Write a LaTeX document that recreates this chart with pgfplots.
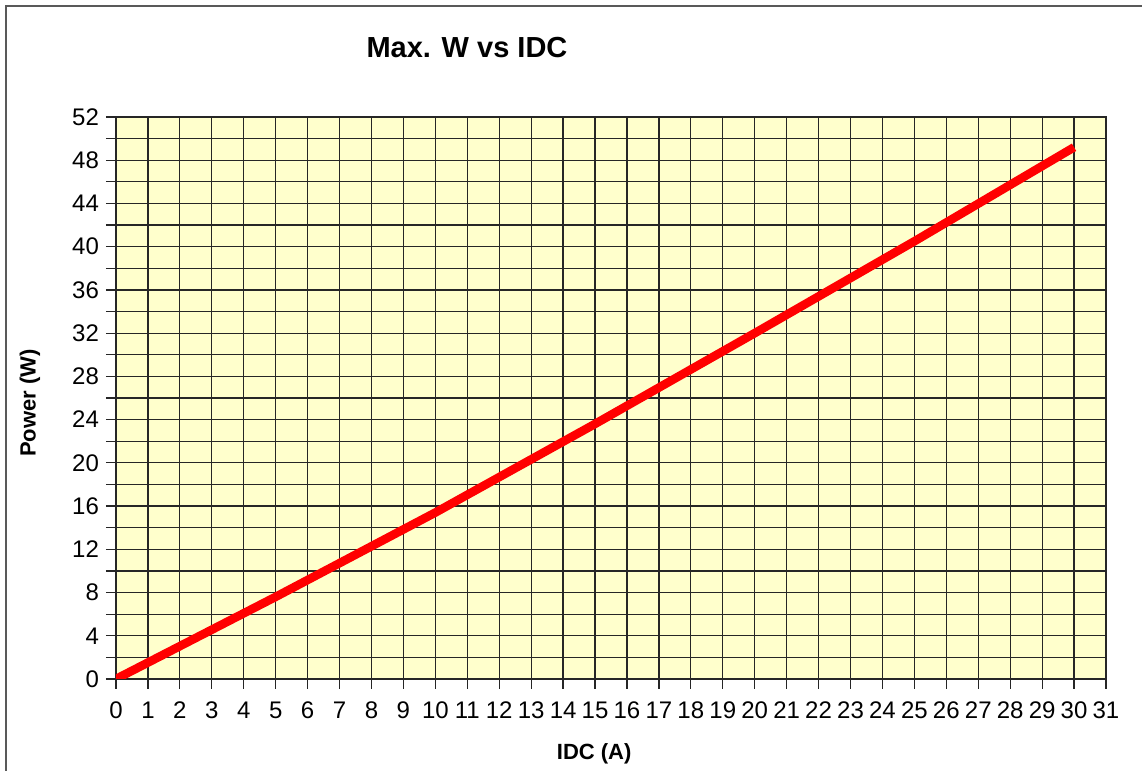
\documentclass[border=0pt]{standalone}
\usepackage{fontspec}
\setmainfont{Liberation Sans}
\usepackage{pgfplots}
\pgfplotsset{compat=1.18}
\definecolor{plotbg}{HTML}{FFFFCC}
\begin{document}
\begin{tikzpicture}
\useasboundingbox (0,0) rectangle (571pt,385.5pt);
\draw[black!65, line width=0.6pt] (3pt,-10pt) -- (3pt,382.5pt) -- (590pt,382.5pt);
\begin{axis}[
  at={(58pt,46pt)}, anchor=south west,
  scale only axis, width=495pt, height=281pt,
  xmin=0, xmax=31, ymin=0, ymax=52,
  xtick={0,1,...,31}, ytick={0,4,...,52}, minor ytick={2,6,...,50},
  xtick pos=left, ytick pos=left,
  grid=both,
  major grid style={black!85, line width=0.6pt},
  minor grid style={black!85, line width=0.6pt},
  axis background/.style={fill=plotbg},
  tick align=outside, major tick length=5pt, minor tick length=5pt,
  every tick/.style={black!85, line width=0.6pt},
  minor tick style={black!85, line width=0.6pt},
  axis line style={black!85, line width=1.1pt},
  /pgf/number format/assume math mode=true,
  ticklabel style={font=\fontsize{12}{14}\selectfont},
  xticklabel style={yshift=-3pt},
  title={Max. W vs IDC},
  title style={font=\fontsize{14.5}{17}\selectfont\bfseries, at={(axis description cs:0.3545,1)}, anchor=base, yshift=23.8pt},
  xlabel={IDC (A)},
  xlabel style={font=\fontsize{11}{13}\selectfont\bfseries, at={(axis description cs:0.483,0)}, anchor=base, yshift=-40.5pt},
  ylabel={Power (W)},
  ylabel style={font=\fontsize{11}{13}\selectfont\bfseries, at={(axis description cs:0,0.491)}, anchor=center, yshift=43pt},
]
\addplot[red, line width=4.3pt, line cap=butt] coordinates {
  (0,0) (5,7.6) (10,15.4) (15,23.6) (20,32.0) (25,40.5) (30,49.2)
};
\end{axis}
\end{tikzpicture}
\end{document}
